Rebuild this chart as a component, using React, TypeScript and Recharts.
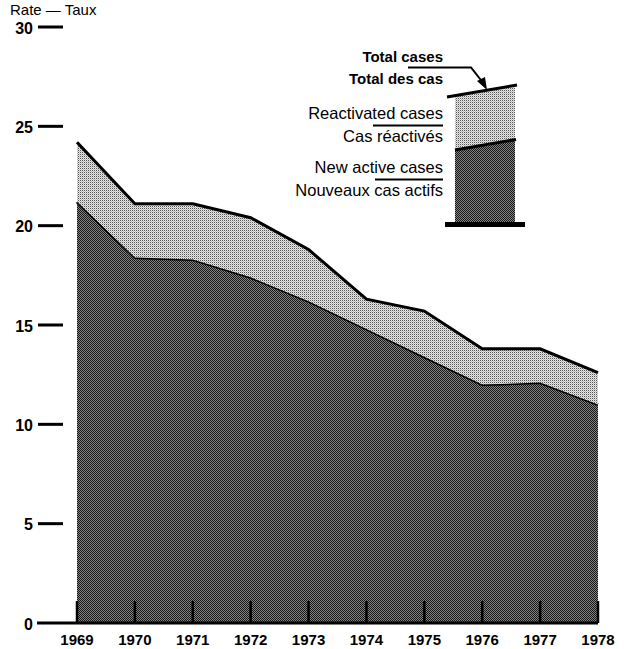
import React from 'react';
import { ComposedChart, Area, XAxis, YAxis, ReferenceLine } from 'recharts';

const years = [1969, 1970, 1971, 1972, 1973, 1974, 1975, 1976, 1977, 1978];
const newActiveCases = [21.2, 18.4, 18.3, 17.4, 16.2, 14.8, 13.4, 12.0, 12.1, 11.0];
const totalCases = [24.2, 21.1, 21.1, 20.4, 18.8, 16.3, 15.7, 13.8, 13.8, 12.6];
const yTicks = [0, 5, 10, 15, 20, 25, 30];

const data = years.map((year, i) => ({
  year,
  newActive: newActiveCases[i],
  reactivated: Math.round((totalCases[i] - newActiveCases[i]) * 100) / 100,
}));

const FONT = '"Liberation Sans", Arial, Helvetica, sans-serif';

const LeftTick = (props: any) => {
  const { x, y, payload } = props;
  const isZero = payload.value === 0;
  return (
    <g>
      <line x1={isZero ? x - 40 : x - 39} x2={isZero ? x : x - 14} y1={y} y2={y} stroke="#000" strokeWidth={3} />
      <text x={x - 44} y={y + 1} textAnchor="end" dominantBaseline="central" fontFamily={FONT} fontSize={16} fontWeight="bold" fill="#000">
        {payload.value}
      </text>
    </g>
  );
};

const RightTick = (props: any) => {
  const { x, y, payload } = props;
  if (payload.value === 0) {
    return (
      <g>
        <line x1={x} x2={x + 34} y1={y} y2={y} stroke="#000" strokeWidth={3} />
        <polygon points={`${x + 30},${y - 3} ${x + 37},${y} ${x + 30},${y + 3}`} fill="#000" />
      </g>
    );
  }
  return <line x1={x + 14} x2={x + 38} y1={y} y2={y} stroke="#000" strokeWidth={2.5} />;
};

const BottomTick = (props: any) => {
  const { x, y, payload } = props;
  return (
    <g>
      <line x1={x} x2={x} y1={y} y2={y - 22} stroke="#000" strokeWidth={2.5} />
      <text x={x} y={y + 22} textAnchor="middle" fontFamily={FONT} fontSize={15} fontWeight="bold" fill="#000">
        {payload.value}
      </text>
    </g>
  );
};

export default function App() {
  return (
    <div style={{ position: 'absolute', left: 0, top: 0, width: 636, height: 649, background: '#fff' }}>
      <ComposedChart
        width={636}
        height={649}
        data={data}
        margin={{ top: 27, right: 0, bottom: 0, left: 0 }}
      >
        <defs>
          <pattern id="darkPat" width="2" height="2" patternUnits="userSpaceOnUse">
            <rect x="0" y="0" width="2" height="2" fill="#858585" />
            <rect x="0" y="0" width="1" height="1" fill="#151515" />
            <rect x="1" y="1" width="1" height="1" fill="#151515" />
          </pattern>
          <pattern id="lightPat" width="2" height="2" patternUnits="userSpaceOnUse">
            <rect x="0" y="0" width="2" height="2" fill="#e6e6e6" />
            <rect x="0" y="0" width="1" height="1" fill="#555555" />
            <rect x="1" y="1" width="1" height="1" fill="#bdbdbd" />
          </pattern>
        </defs>
        <YAxis
          yAxisId="left"
          orientation="left"
          type="number"
          domain={[0, 30]}
          ticks={yTicks}
          width={77}
          tickSize={0}
          tickMargin={0}
          axisLine={false}
          tickLine={false}
          tick={<LeftTick />}
          interval={0}
        />
        <YAxis
          yAxisId="right"
          orientation="right"
          type="number"
          domain={[0, 30]}
          ticks={yTicks}
          width={38}
          tickSize={0}
          tickMargin={0}
          axisLine={false}
          tickLine={false}
          tick={<RightTick />}
          interval={0}
        />
        <Area
          yAxisId="left"
          type="linear"
          dataKey="newActive"
          stackId="cases"
          stroke="#000"
          strokeWidth={3}
          fill="url(#darkPat)"
          fillOpacity={1}
          isAnimationActive={false}
        />
        <Area
          yAxisId="left"
          type="linear"
          dataKey="reactivated"
          stackId="cases"
          stroke="#000"
          strokeWidth={3}
          fill="url(#lightPat)"
          fillOpacity={1}
          isAnimationActive={false}
        />
        <ReferenceLine yAxisId="left" y={0} stroke="#000" strokeWidth={3} />
        <XAxis
          dataKey="year"
          type="number"
          domain={[1969, 1978]}
          ticks={years}
          height={26}
          tickSize={0}
          tickMargin={0}
          axisLine={false}
          tickLine={false}
          tick={<BottomTick />}
          interval={0}
        />
        <g fontFamily={FONT} fill="#000">
          <text x={10} y={15} fontSize={15} fill="#000">Rate — Taux</text>
          <text x={443} y={62} fontSize={15} fontWeight="bold" textAnchor="end" fill="#000">Total cases</text>
          <text x={443} y={84} fontSize={15} fontWeight="bold" textAnchor="end" fill="#000">Total des cas</text>
          <polyline points="408,67.5 471,67.5 484,84" fill="none" stroke="#000" strokeWidth={2} />
          <polygon points="487,90 477,81 485,77" fill="#000" />
          <text x={443} y={119} fontSize={16.5} textAnchor="end" fill="#000">Reactivated cases</text>
          <line x1={373} x2={443} y1={125.5} y2={125.5} stroke="#000" strokeWidth={2} />
          <text x={443} y={142} fontSize={16.5} textAnchor="end" fill="#000">Cas réactivés</text>
          <text x={443} y={173} fontSize={16.5} textAnchor="end" fill="#000">New active cases</text>
          <line x1={375} x2={443} y1={179.5} y2={179.5} stroke="#000" strokeWidth={2} />
          <text x={443} y={196} fontSize={16.5} textAnchor="end" fill="#000">Nouveaux cas actifs</text>
          <polygon points="455,96 515,86 515,140 455,150" fill="url(#lightPat)" />
          <polygon points="455,150 515,140 515,223 455,223" fill="url(#darkPat)" />
          <line x1={447} y1={97} x2={517} y2={85} stroke="#000" strokeWidth={3} />
          <line x1={455} y1={150} x2={516} y2={139.5} stroke="#000" strokeWidth={3} />
          <rect x={445} y={222} width={80} height={5} fill="#000" />
        </g>
      </ComposedChart>
    </div>
  );
}
